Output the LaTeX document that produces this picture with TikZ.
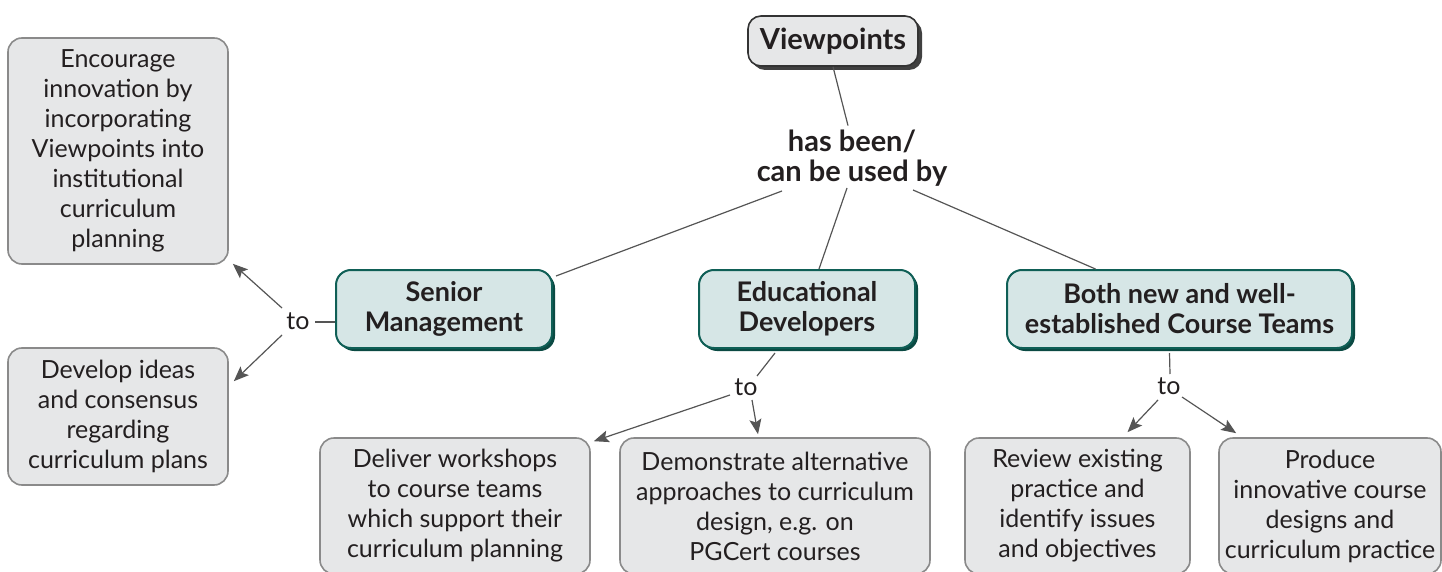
\documentclass[tikz,border=0pt]{standalone}
\usepackage{fontspec}
\setmainfont{Lato}
\usetikzlibrary{arrows.meta,calc,shadows}
\definecolor{boxgray}{HTML}{E6E7E8}
\definecolor{edgegray}{HTML}{8A8A8A}
\definecolor{tealfill}{HTML}{D6E6E6}
\definecolor{tealline}{HTML}{0F5F56}
\definecolor{tealshadow}{HTML}{0B4A43}
\definecolor{inkdark}{HTML}{231F20}
\definecolor{linkgray}{HTML}{555555}
\tikzset{
  actionbox/.style={draw=edgegray, line width=1.6pt, fill=boxgray, rounded corners=14pt,
    align=center, text=inkdark, inner sep=0pt, font=\fontsize{25}{30}\selectfont},
  groupbox/.style={draw=tealline, line width=2pt, fill=tealfill, rounded corners=15pt,
    align=center, text=inkdark, inner sep=0pt, font=\bfseries\fontsize{27}{30}\selectfont,
    drop shadow={shadow xshift=3pt, shadow yshift=-3pt, fill=tealshadow, opacity=1}},
  rootbox/.style={draw=black!80, line width=1.6pt, fill=boxgray, rounded corners=13pt,
    align=center, text=inkdark, inner sep=0pt, font=\bfseries\fontsize{29}{30}\selectfont,
    drop shadow={shadow xshift=4pt, shadow yshift=-4pt, fill=black!75, opacity=1}},
  linkword/.style={text=inkdark, inner sep=2pt, font=\fontsize{25}{30}\selectfont},
  conn/.style={draw=linkgray, line width=1.2pt},
  arr/.style={conn, -{Stealth[length=15pt, width=12pt, inset=3pt]}}
}
\begin{document}
\begin{tikzpicture}[x=1pt, y=-1pt]
\useasboundingbox (0,0) rectangle (1442,572);
\clip (0,0) rectangle (1442,572);

% root concept and linking phrase
\node[rootbox, minimum width=170pt, minimum height=50pt] (vp) at (833,41) {Viewpoints};
\node[linkword, align=center, font=\bfseries\fontsize{29}{30}\selectfont] (used) at (852,158) {has been/\\can be used by};

% user groups
\node[groupbox, minimum width=216pt, minimum height=78pt] (senior) at (444,309) {Senior\\Management};
\node[groupbox, minimum width=216pt, minimum height=78pt] (edu) at (807,309) {Educational\\Developers};
\node[groupbox, minimum width=345pt, minimum height=78pt] (ct) at (1179.5,309) {Both new and well-\\established Course Teams};

% activities
\node[actionbox, minimum width=220pt, minimum height=226pt] (enc) at (118,151)
  {Encourage\\innovation by\\incorporating\\Viewpoints into\\institutional\\curriculum\\planning};
\node[actionbox, minimum width=220pt, minimum height=137pt] (dev) at (118,416.5)
  {Develop ideas\\and consensus\\regarding\\curriculum plans};
\node[actionbox, minimum width=270pt, minimum height=136pt] (deliver) at (455,506)
  {Deliver workshops\\to course teams\\which support their\\curriculum planning};
\node[actionbox, minimum width=310pt, minimum height=136pt] (demo) at (775,506)
  {Demonstrate alternative\\approaches to curriculum\\design, e.g. on\\PGCert courses};
\node[actionbox, minimum width=225pt, minimum height=136pt] (review) at (1077.5,506)
  {Review existing\\practice and\\identify issues\\and objectives};
\node[actionbox, minimum width=222pt, minimum height=136pt] (produce) at (1330,506)
  {Produce\\innovative course\\designs and\\curriculum practice};

% "to" linking words
\node[linkword] (toA) at (298,321) {to};
\node[linkword] (toB) at (746,387) {to};
\node[linkword] (toC) at (1169,386) {to};

% connectors from the root
\draw[conn] (vp.south) -- ($(used.north)+(-4,-2)$);
\draw[conn] ($(used.center)+(-70,33)$) -- ($(senior.north east)+(3,7)$);
\draw[conn] ($(used.center)+(-5,30)$) -- ($(edu.north)+(12,0)$);
\draw[conn] ($(used.center)+(61,32)$) -- ($(ct.north)+(-84,0)$);

% Senior Management branch
\draw[conn] ($(senior.west)+(0,13)$) -- ($(toA.center)+(17,1)$);
\draw[arr] ($(toA.center)+(-16,-13)$) -- ($(enc.south east)+(4,-1)$);
\draw[arr] ($(toA.center)+(-16,14)$) -- ($(dev.north east)+(5,34)$);

% Educational Developers branch
\draw[conn] ($(edu.south)+(-32,4)$) -- ($(toB.center)+(11,-11)$);
\draw[arr] ($(toB.center)+(-16,8)$) -- ($(deliver.north east)+(3,4)$);
\draw[arr] ($(toB.center)+(6,13)$) -- ($(demo.north)+(-17,-3)$);

% Course Teams branch
\draw[conn] ($(ct.south)+(-10,4)$) -- ($(toC.center)+(1,-12)$);
\draw[arr] ($(toC.center)+(-11,14)$) -- ($(review.north)+(50,-5)$);
\draw[arr] ($(toC.center)+(13,11)$) -- ($(produce.north west)+(18,-4)$);
\end{tikzpicture}
\end{document}
